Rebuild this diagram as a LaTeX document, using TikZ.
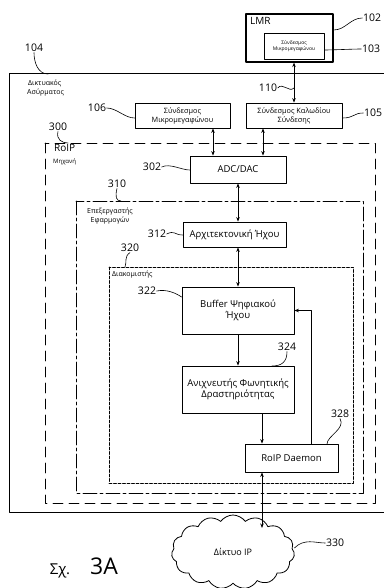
\documentclass[tikz,border=0pt]{standalone}
\usepackage{fontspec}
\setmainfont{Open Sans}
\usetikzlibrary{arrows.meta,calc,positioning,shapes.symbols}
\tikzset{
  blk/.style={draw, line width=0.8pt, align=center, inner sep=1pt, font=\fontsize{9.5}{11.5}\selectfont},
  smallblk/.style={blk, font=\fontsize{7.3}{9}\selectfont},
  refno/.style={inner sep=0.5pt, font=\fontsize{10.5}{12}\selectfont},
  note/.style={inner sep=0pt, align=left, font=\fontsize{7}{9}\selectfont},
  lead/.style={line width=0.6pt},
  link/.style={line width=0.8pt},
  every picture/.style={line cap=round, line join=round},
  >={Stealth[length=4.5pt,width=3.5pt]}
}

\begin{document}
\begin{tikzpicture}[x=1pt,y=-1pt]
  \useasboundingbox (0,0) rectangle (383,588);

  % frames
  \draw[line width=1pt] (384,74) -- (9,74) -- (9,512) -- (384,512);
  \draw[line width=0.9pt, dash pattern=on 10pt off 6pt] (45,143) rectangle (375,503);
  \draw[line width=0.8pt, dash pattern=on 14pt off 3pt on 3pt off 3pt] (76,201) rectangle (363,493);
  \draw[line width=0.6pt, dash pattern=on 3pt off 1.5pt] (109,267) rectangle (353,483);
  \coordinate (f104) at (48,74);
  \coordinate (f300) at (68,143);
  \coordinate (f310) at (121,201);
  \coordinate (f320) at (125,267);

  % blocks
  \node[draw, line width=1.2pt, minimum width=87pt, minimum height=48pt] (lmr) at (289.5,38) {};
  \node[anchor=north west, inner sep=0pt, font=\fontsize{10}{12}\selectfont] (lmrtxt) at (250,17) {LMR};
  \node[blk, minimum width=60pt, minimum height=26pt, font=\fontsize{5}{6.5}\selectfont] (spk) at (294,46) {Σύνδεσμος\\Μικρομεγαφώνου};
  \node[smallblk, minimum width=95pt, minimum height=25pt] (mic) at (182.5,115.5) {Σύνδεσμος\\Μικρομεγαφώνου};
  \node[smallblk, minimum width=96pt, minimum height=25pt] (cab) at (294,115.5) {Σύνδεσμος Καλωδίου\\Σύνδεσης};
  \node[blk, minimum width=96pt, minimum height=27pt] (adc) at (238,169.5) {ADC/DAC};
  \node[blk, minimum width=103pt, minimum height=25pt] (arch) at (234.5,234.5) {Αρχιτεκτονική Ήχου};
  \node[blk, minimum width=112pt, minimum height=47pt] (buf) at (238,310.5) {Buffer Ψηφιακού\\Ήχου};
  \node[blk, minimum width=112pt, minimum height=47pt] (vad) at (238,389.5) {Ανιχνευτής Φωνητικής\\Δραστηριότητας};
  \node[blk, minimum width=93pt, minimum height=28pt] (dmn) at (291.5,458) {RoIP Daemon};
  \node[cloud, draw, line width=0.8pt, cloud puffs=15, cloud puff arc=110, aspect=1.7,
        minimum width=123pt, minimum height=74pt, font=\fontsize{9}{11}\selectfont] (net) at (233,552) {Δίκτυο IP};

  % texts
  \node[note, anchor=west] (wl) at (27,88) {\hspace*{1pt}Δικτυακός\\Ασύρματος};
  \node[anchor=west, inner sep=0pt, font=\fontsize{10}{12}\selectfont] (roip) at (54,148) {RoIP};
  \node[anchor=west, inner sep=0pt, font=\fontsize{6}{7}\selectfont] (mach) at (53,162) {Μηχανή};
  \node[note, align=center] (apt) at (110,216) {Επεξεργαστής\\Εφαρμογών};
  \node[note, anchor=west] (srv) at (112,275) {Διακομιστής};
  \node[anchor=base, inner sep=0pt, font=\fontsize{15}{17}\selectfont] (fig) at (60,574) {Σχ.};
  \node[anchor=base, inner sep=0pt, font=\fontsize{23}{25}\selectfont] (fignum) at (104,574) {3A};

  % connections
  \draw[link,<->] (cab.north |- lmr.south) -- (cab.north);
  \draw[link,<->] ([xshift=30.5pt]mic.south) -- ([xshift=30.5pt]mic.south |- adc.north);
  \draw[link,<->] ([xshift=-31pt]cab.south) -- ([xshift=-31pt]cab.south |- adc.north);
  \draw[link,<->] (adc.south) -- (adc.south |- arch.north);
  \draw[link,<->] (buf.north |- arch.south) -- (buf.north);
  \draw[link,->] (buf.south) -- (vad.north);
  \coordinate (dl) at ($(dmn.north)+(-29.5,0)$);
  \coordinate (dr) at ($(dmn.north)+(19.5,0)$);
  \draw[link,->] (dl |- vad.south) -- (dl);
  \draw[link,->] (dr) |- (buf.east);
  \draw[link,<->] (dl |- dmn.south) -- (dl |- 0,528);

  % reference numerals
  \node[refno] (n102) at (372,18) {102};
  \node[refno] (n103) at (371,49) {103};
  \node[refno] (n104) at (34,48) {104};
  \node[refno] (n106) at (97,108) {106};
  \node[refno] (n105) at (373,113) {105};
  \node[refno] (n110) at (268,88) {110};
  \node[refno] (n300) at (58,127) {300};
  \node[refno] (n302) at (152,167) {302};
  \node[refno] (n310) at (117,184) {310};
  \node[refno] (n312) at (157,234) {312};
  \node[refno] (n320) at (130,248) {320};
  \node[refno] (n322) at (147,291) {322};
  \node[refno] (n324) at (287,347) {324};
  \node[refno] (n328) at (340,414) {328};
  \node[refno] (n330) at (335,543) {330};

  \draw[lead] (lmr.east |- 0,30) .. controls +(12,0) and +(-12,0) .. (n102.west);
  \draw[lead] (spk.east |- 0,50) .. controls +(8,0) and +(-8,0) .. (n103.west);
  \draw[lead] (n104.south) .. controls +(0,10) and +(-10,0) .. (f104);
  \draw[lead] (n106.east) .. controls +(10,0) and +(-10,0) .. (mic.west |- 0,118);
  \draw[lead] (cab.east |- 0,118) .. controls +(12,0) and +(-10,0) .. (n105.west);
  \draw[lead] (n110.east) .. controls +(5,-6) and +(-5,5) .. (cab.north |- 0,88);
  \draw[lead] (n300.south) .. controls +(-2,8) and +(-6,0) .. (f300);
  \draw[lead] (n302.east) .. controls +(8,-4) and +(-8,0) .. (adc.west |- 0,170);
  \draw[lead] (n310.south) .. controls +(-2,8) and +(-5,0) .. (f310);
  \draw[lead] (n312.east) .. controls +(8,-4) and +(-8,0) .. (arch.west |- 0,235);
  \draw[lead] (n320.south) .. controls +(-6,4) and +(2,-5) .. (f320);
  \draw[lead] (n322.east) .. controls +(10,-2) and +(-6,-4) .. (buf.west |- 0,297);
  \draw[lead] (n324.south) .. controls +(0,10) and +(10,0) .. (272,366);
  \draw[lead] (n328.south) .. controls +(6,10) and +(0,-8) .. (327,444);
  \draw[lead] (net.east |- 0,548) .. controls +(10,-10) and +(-10,0) .. (n330.west);
\end{tikzpicture}
\end{document}
